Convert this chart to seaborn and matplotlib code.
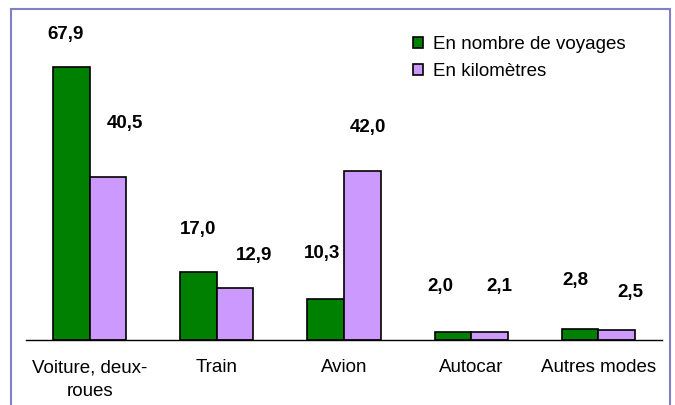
import matplotlib
matplotlib.use('Agg')
import matplotlib.pyplot as plt
import seaborn as sns
import pandas as pd
import numpy as np

# Data
modes = ['Voiture, deux-\nroues', 'Train', 'Avion', 'Autocar', 'Autres modes']
voyages = [67.9, 17.0, 10.3, 2.0, 2.8]
kilometres = [40.5, 12.9, 42.0, 2.1, 2.5]
series = ['En nombre de voyages', 'En kilomètres']

# where the value labels sit (hand placed in the original)
lbl_dx_voy = [-0.19, -0.15, -0.17, -0.24, -0.18]
lbl_dy_voy = [8.0, 10.4, 11.1, 11.4, 11.9]
lbl_dx_km = [0.28, 0.29, 0.19, 0.22, 0.25]
lbl_dy_km = [13.2, 8.0, 10.7, 11.3, 9.2]

df = pd.DataFrame({
    'mode': modes * 2,
    'valeur': voyages + kilometres,
    'serie': [series[0]] * len(modes) + [series[1]] * len(modes),
})

sns.set_style('white')
plt.rcParams['font.family'] = ['Liberation Sans', 'DejaVu Sans']
plt.rcParams['text.color'] = 'black'
plt.rcParams['xtick.color'] = 'black'

FS = 13.5
W, H = 675, 405
fig = plt.figure(figsize=(W / 100, H / 100), dpi=100)
ax = fig.add_axes([26 / W, (H - 340) / H, 636 / W, (340 - 18) / H])

sns.barplot(data=df, x='mode', y='valeur', hue='serie',
            palette=['#008000', '#CC99FF'], saturation=1, width=0.575,
            edgecolor='black', linewidth=1.2, ax=ax)

ax.set_ylim(0, 80)
ax.set_xlim(-0.5, len(modes) - 0.5)
ax.set_xlabel('')
ax.set_ylabel('')
ax.set_yticks([])
for s in ['top', 'left', 'right']:
    ax.spines[s].set_visible(False)
ax.spines['bottom'].set_color('black')
ax.spines['bottom'].set_linewidth(1.0)
ax.tick_params(axis='x', length=0, pad=14, labelsize=FS, labelcolor='black')
for lab in ax.get_xticklabels():
    lab.set_linespacing(1.5)
    lab.set_verticalalignment('top')

# value labels
for i in range(len(modes)):
    ax.text(i + lbl_dx_voy[i], voyages[i] + lbl_dy_voy[i],
            f'{voyages[i]:.1f}'.replace('.', ','),
            ha='center', va='center', fontsize=FS, fontweight='bold')
    ax.text(i + lbl_dx_km[i], kilometres[i] + lbl_dy_km[i],
            f'{kilometres[i]:.1f}'.replace('.', ','),
            ha='center', va='center', fontsize=FS, fontweight='bold')

# legend
handles, labels = ax.get_legend_handles_labels()
ax.legend(handles, labels, loc='upper left',
          bbox_to_anchor=(413 / W, 1 - 36 / H), bbox_transform=fig.transFigure,
          frameon=False, fontsize=FS, handlelength=0.55, handleheight=0.55,
          handletextpad=0.5, labelspacing=0.55, borderpad=0, borderaxespad=0)

# outer frame of the chart area
frame = plt.Rectangle((11 / W, -0.1), (670 - 11) / W, (H - 9) / H + 0.1,
                      transform=fig.transFigure, fill=False,
                      edgecolor='#8080C8', linewidth=1.5)
fig.patches.append(frame)

fig.savefig('out.png', dpi=100)
